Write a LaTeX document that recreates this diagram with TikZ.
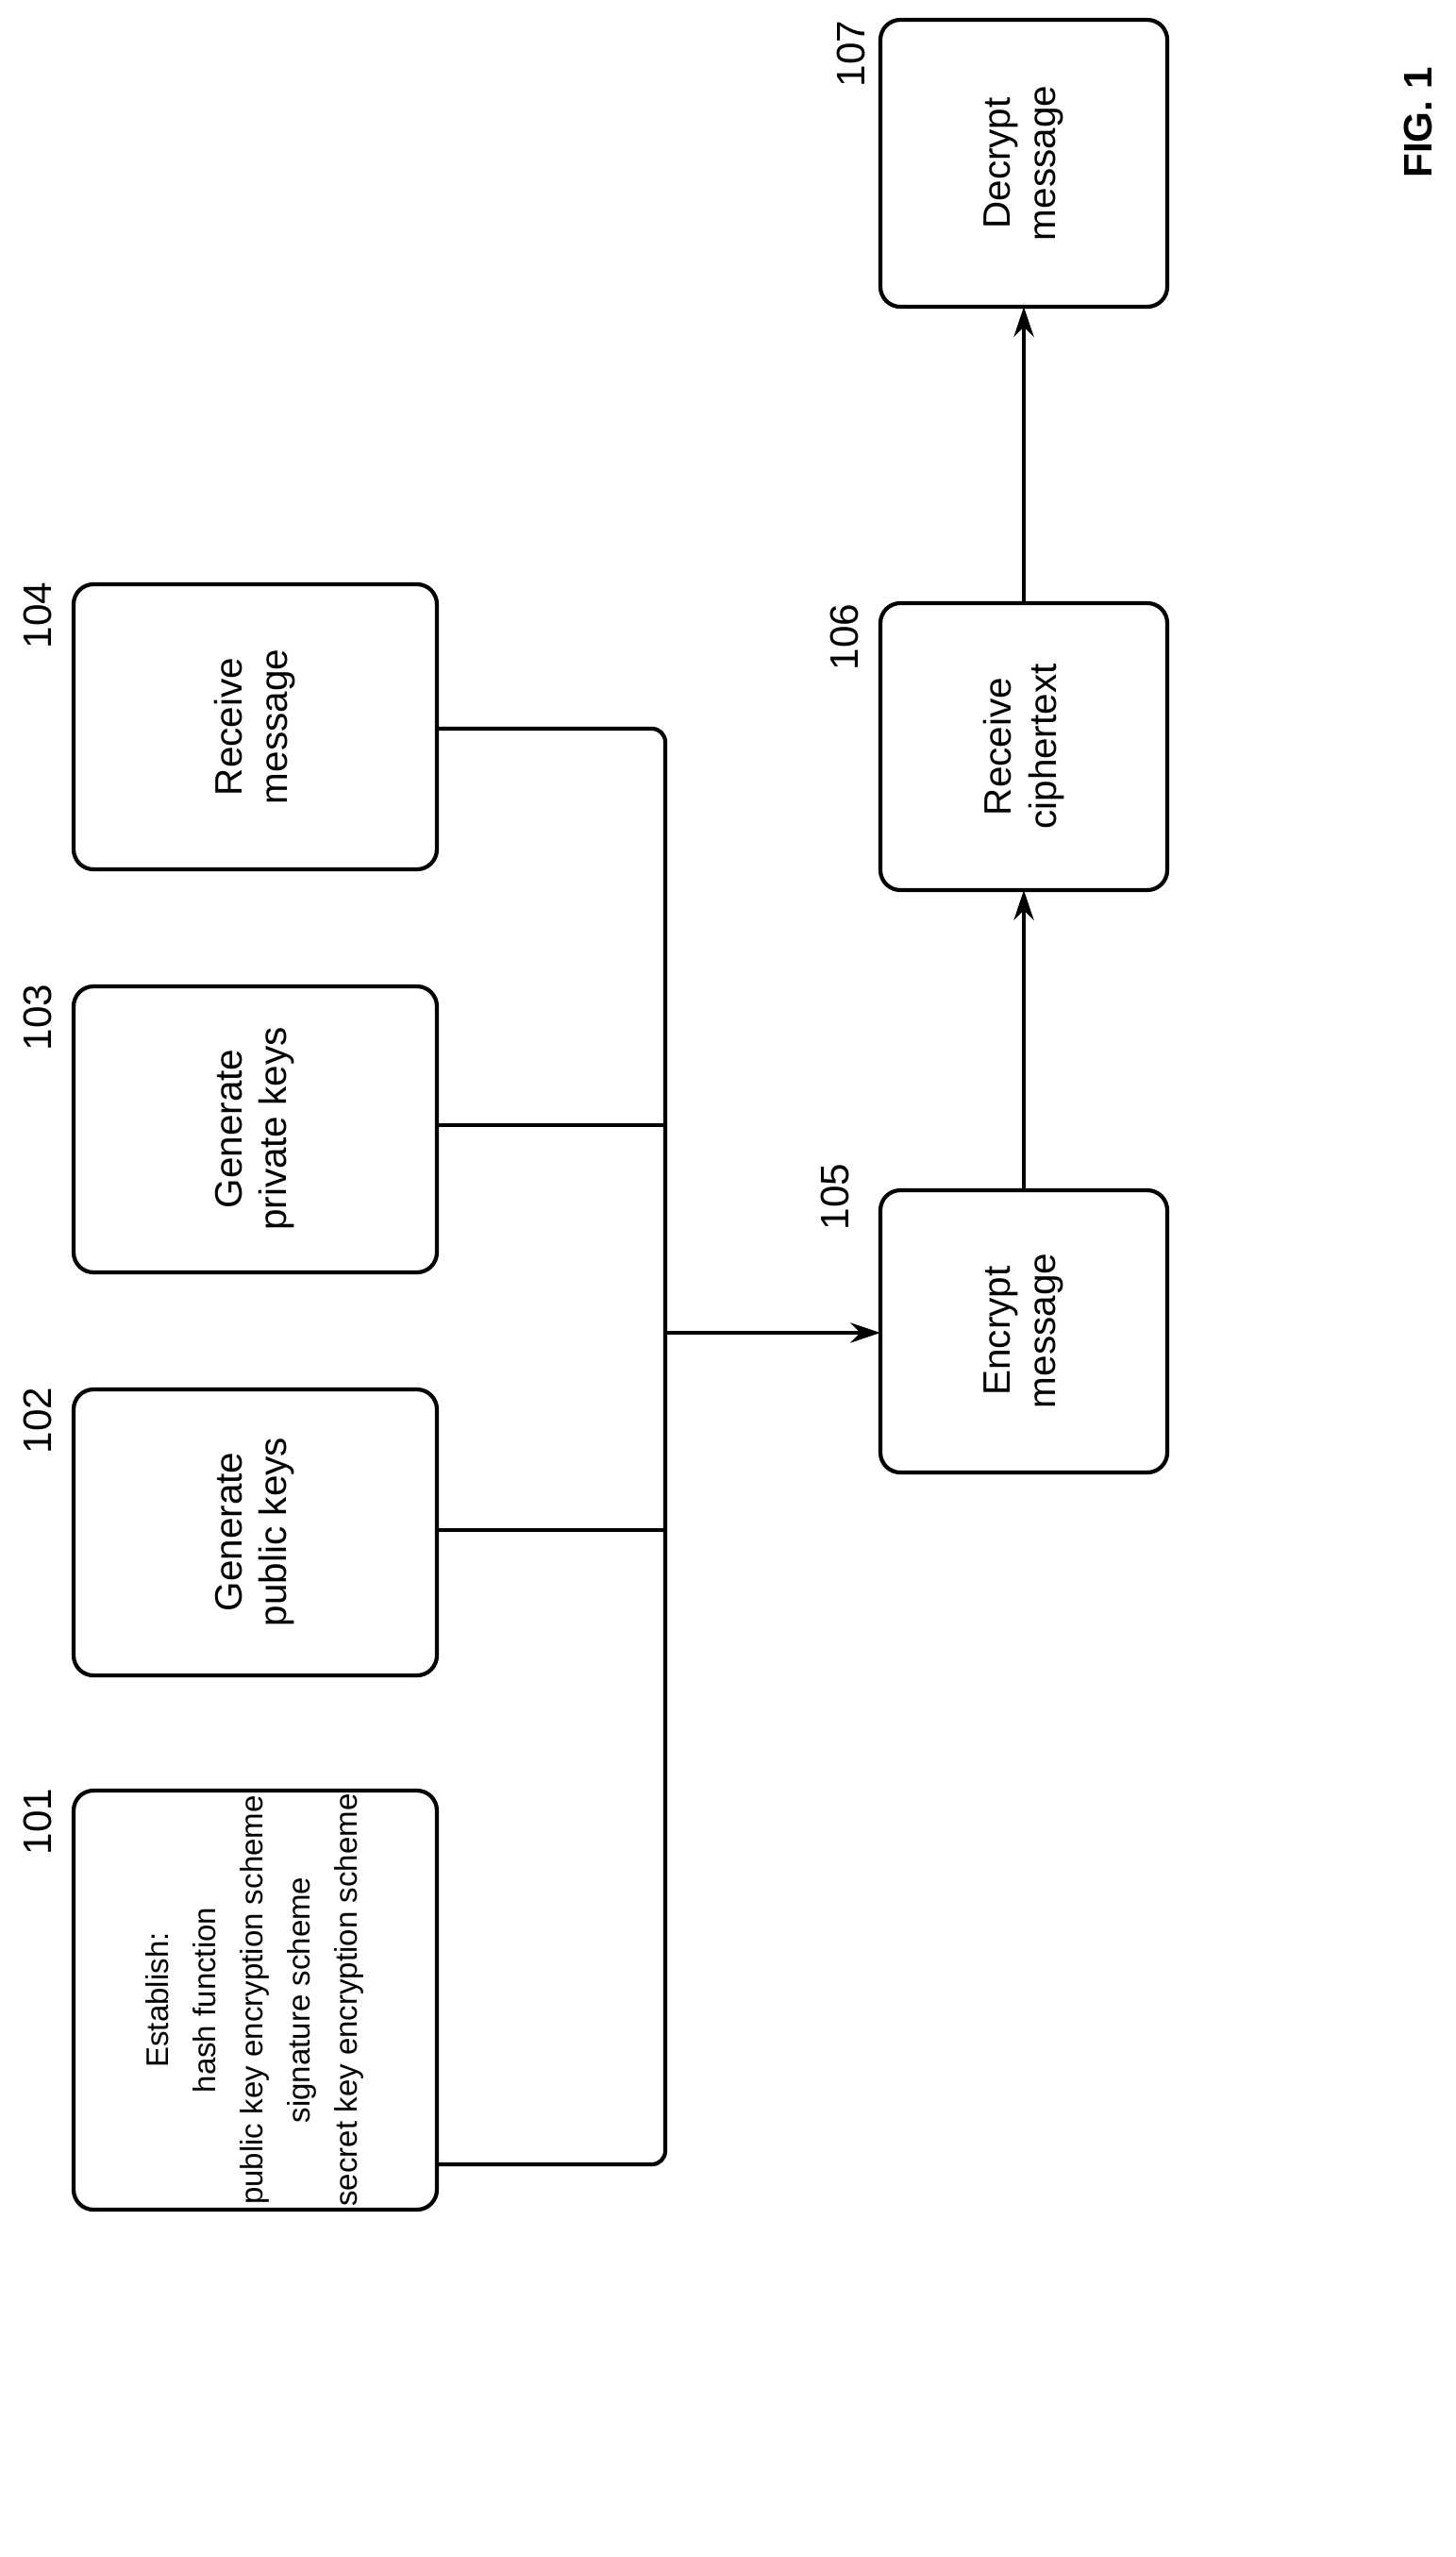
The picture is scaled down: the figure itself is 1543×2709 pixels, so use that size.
\documentclass[tikz,border=0pt]{standalone}
\usepackage{fontspec}
\setmainfont{Liberation Sans}
\usetikzlibrary{arrows.meta}
\begin{document}
\begin{tikzpicture}[x=0.01cm,y=-0.01cm,
  box/.style={draw,line width=1.2pt,rounded corners=6pt},
  txt/.style={rotate=90,align=center,font=\fontsize{11.5}{13.5}\selectfont},
  lab/.style={rotate=90,font=\fontsize{12}{14}\selectfont},
  ln/.style={line width=1.2pt},
  ar/.style={ln,-{Stealth[length=9pt,width=6pt]}}]
\useasboundingbox (0,0) rectangle (1543,2709);
\draw[box] (78,1897) rectangle (463,2341);
\node[txt,font=\fontsize{9.4}{14.2}\selectfont] (t101) at (270,2119) {Establish:\\hash function\\public key encryption scheme\\signature scheme\\secret key encryption scheme};
\draw[box] (78,1472) rectangle (463,1775);
\node[txt] (t102) at (270,1623) {Generate\\public keys};
\draw[box] (78,1045) rectangle (463,1348);
\node[txt] (t103) at (270,1196) {Generate\\private keys};
\draw[box] (78,619) rectangle (463,921);
\node[txt] (t104) at (270,770) {Receive\\message};
\draw[box] (933,1261) rectangle (1237,1560);
\node[txt] (t105) at (1085,1410) {Encrypt\\message};
\draw[box] (933,639) rectangle (1237,943);
\node[txt] (t106) at (1085,791) {Receive\\ciphertext};
\draw[box] (933,21) rectangle (1237,325);
\node[txt] (t107) at (1085,173) {Decrypt\\message};
\node[lab] (l101) at (40,1930) {101};
\node[lab] (l102) at (40,1505) {102};
\node[lab] (l103) at (40,1078) {103};
\node[lab] (l104) at (40,652) {104};
\node[lab] (l105) at (885,1268) {105};
\node[lab] (l106) at (895,675) {106};
\node[lab] (l107) at (902,57) {107};
\node[rotate=90,font=\bfseries\fontsize{12}{14}\selectfont] (fig) at (1503,130) {FIG. 1};
\coordinate (b1) at (705,2293);
\coordinate (b4) at (705,772);
\coordinate (bj) at (705,1412);
\draw[ln,rounded corners=4pt] (463,2293) -- (b1) -- (b4) -- (463,772);
\draw[ln] (463,1621) -- (705,1621);
\draw[ln] (463,1192) -- (705,1192);
\draw[ar] (bj) -- (933,1412);
\draw[ar] (1085,1261) -- (1085,943);
\draw[ar] (1085,639) -- (1085,325);
\end{tikzpicture}
\end{document}
